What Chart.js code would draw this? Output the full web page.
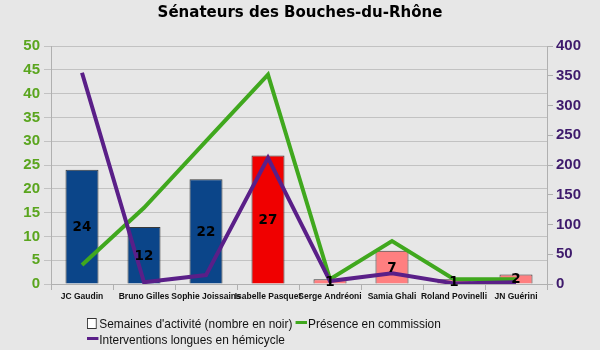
<!DOCTYPE html>
<html><head><meta charset="utf-8">
<script src="https://cdn.jsdelivr.net/npm/chart.js@4/dist/chart.umd.min.js"></script>
<style>
html,body{margin:0;padding:0;background:#e7e7e7;}
#wrap{position:relative;width:600px;height:350px;overflow:hidden;}
canvas{position:absolute;left:0;top:0;}
.leg{position:absolute;font-family:'Liberation Sans',Arial,sans-serif;font-size:13.5px;color:#111;white-space:nowrap;transform-origin:0 0;transform:scaleX(0.88);}
.box{display:inline-block;width:9px;height:9px;border:1px solid #333;background:#fff;margin-right:3px;vertical-align:-1px;}
.ln{display:inline-block;width:13px;height:3px;vertical-align:4px;margin-right:1px;}
</style></head>
<body><div id="wrap"><canvas id="c" width="600" height="350"></canvas>
<div class="leg" style="left:87px;top:316px;"><span class="box"></span>Semaines d'activité (nombre en noir) <span class="ln" style="background:#40a81e"></span>Présence en commission</div>
<div class="leg" style="left:87px;top:332px;"><span class="ln" style="background:#5a1f88"></span>Interventions longues en hémicycle</div>
</div>
<script>
const categories = ['JC Gaudin','Bruno Gilles','Sophie Joissains','Isabelle Pasquet','Serge Andréoni','Samia Ghali','Roland Povinelli','JN Guérini'];
const semainesActivite = [24, 12, 22, 27, 1, 7, 1, 2];
const presenceCommission = [4, 16, 30, 44, 1, 9, 1, 1];
const interventionsHemicycle = [355, 3, 15, 212, 5, 18, 1, 3];
const barColors = ['#0b4589','#0b4589','#0b4589','#f00000','#ff7f80','#ff7f80','#ff7f80','#ff7f80'];
const leftTicks = [0,5,10,15,20,25,30,35,40,45,50];
const rightTicks = [0,50,100,150,200,250,300,350,400];

const barLabels = {
  id:'barLabels',
  afterDatasetsDraw(chart){
    const ctx = chart.ctx;
    const meta = chart.getDatasetMeta(0);
    ctx.save();
    ctx.font = 'bold 13.5px "DejaVu Sans", Arial, sans-serif';
    ctx.fillStyle = '#000';
    ctx.textAlign = 'center';
    ctx.textBaseline = 'middle';
    meta.data.forEach((bar,i)=>{
      const p = bar.getProps(['x','y','base'],true);
      ctx.fillText(String(semainesActivite[i]), p.x, (p.y+p.base)/2+1);
    });
    ctx.restore();
  }
};
const bgPlugin = {
  id:'bg',
  beforeDraw(chart){const c=chart.ctx;c.save();c.fillStyle='#e7e7e7';c.fillRect(0,0,chart.width,chart.height);c.restore();}
};

new Chart(document.getElementById('c'), {
  type:'bar',
  data:{
    labels:categories,
    datasets:[
      {type:'bar',label:"Semaines d'activité (nombre en noir)",data:semainesActivite,backgroundColor:barColors,borderColor:'#3a3a3a',borderWidth:1,yAxisID:'y',order:3,barPercentage:0.75,categoryPercentage:0.71},
      {type:'line',label:'Présence en commission',data:presenceCommission,borderColor:'#40a81e',borderWidth:4,pointRadius:0,tension:0,yAxisID:'y',order:2},
      {type:'line',label:'Interventions longues en hémicycle',data:interventionsHemicycle,borderColor:'#5a1f88',borderWidth:4,pointRadius:0,tension:0,yAxisID:'y1',order:1}
    ]
  },
  options:{
    responsive:false,animation:false,
    layout:{padding:{left:0,right:0,top:0,bottom:0}},
    plugins:{
      legend:{display:false},
      tooltip:{enabled:false},
      title:{display:true,text:'Sénateurs des Bouches-du-Rhône',color:'#000',font:{family:'"DejaVu Sans", sans-serif',size:15,weight:'bold'},padding:{top:4,bottom:24}}
    },
    scales:{
      x:{
        offset:true,
        grid:{display:true,drawOnChartArea:false,drawTicks:true,tickLength:6,color:'#b0b0b0',offset:true},
        border:{display:true,color:'#b0b0b0'},
        ticks:{autoSkip:false,maxRotation:0,minRotation:0,padding:2,color:'#111',font:{family:'"Liberation Sans Narrow","Liberation Sans",Arial,sans-serif',size:8.5,weight:'bold'}},
        afterFit(s){s.height=66;}
      },
      y:{
        position:'left',min:0,max:50,
        afterBuildTicks(s){s.ticks=leftTicks.map(v=>({value:v}));},
        grid:{color:'#c2c2c2',tickLength:7,lineWidth:1},
        border:{display:true,color:'#b0b0b0'},
        ticks:{padding:4,color:'#5aa51e',font:{family:'"Liberation Sans",Arial,sans-serif',size:15,weight:'bold'}},
        afterFit(s){s.width=51;}
      },
      y1:{
        position:'right',min:0,max:400,
        afterBuildTicks(s){s.ticks=rightTicks.map(v=>({value:v}));},
        grid:{drawOnChartArea:false,color:'#b0b0b0',tickLength:6},
        border:{display:true,color:'#b0b0b0'},
        ticks:{padding:3,color:'#3e1a6c',font:{family:'"Liberation Sans",Arial,sans-serif',size:15,weight:'bold'}},
        afterFit(s){s.width=53;}
      }
    }
  },
  plugins:[bgPlugin,barLabels]
});
</script></body></html>
